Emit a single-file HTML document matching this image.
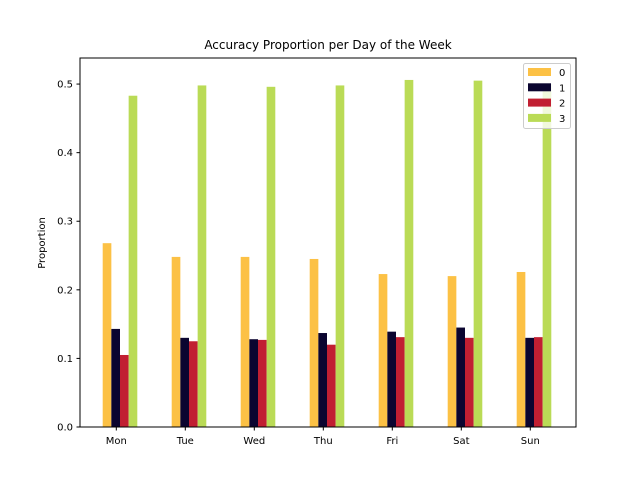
<!DOCTYPE html>
<html><head><meta charset="utf-8"><style>
body{margin:0;background:#fff;}
svg text{font-family:"DejaVu Sans","Liberation Sans",sans-serif;}
</style></head><body>
<svg id="chart" width="640" height="480">
<text x="328" y="49" text-anchor="middle" font-size="12">Accuracy Proportion per Day of the Week</text>
<text transform="translate(45,243) rotate(-90)" text-anchor="middle" font-size="10">Proportion</text>
<g id="bars"></g><g id="axes"></g>
</svg>
<script>
const categories=["Mon","Tue","Wed","Thu","Fri","Sat","Sun"];
const seriesNames=["0","1","2","3"];
const s0=[0.268,0.248,0.248,0.245,0.223,0.220,0.226];
const s1=[0.143,0.130,0.128,0.137,0.139,0.145,0.130];
const s2=[0.105,0.125,0.127,0.120,0.131,0.130,0.131];
const s3=[0.483,0.498,0.496,0.498,0.506,0.505,0.500];
const yTicks=[0.0,0.1,0.2,0.3,0.4,0.5];
const colors=["#fcc145","#0b0530","#c11f32","#badb56"];
const series=[s0,s1,s2,s3];
const NS="http://www.w3.org/2000/svg";
const L=80,R=576,T=58,B=427;
const yMax=0.538;
function y(v){return B-(v/yMax)*(B-T);}
function x(i){return 116.3+i*69.0;}
const bw=8.65;
function mk(tag,attrs,parent){const e=document.createElementNS(NS,tag);for(const k in attrs)e.setAttribute(k,attrs[k]);parent.appendChild(e);return e;}
const gb=document.getElementById('bars'),ga=document.getElementById('axes');
series.forEach((s,k)=>{s.forEach((v,i)=>{
 const r=mk('rect',{x:x(i)-13.6+k*bw,y:y(v),width:bw,height:B-y(v),fill:colors[k]},gb);
 
 
});});
const fr=mk('rect',{x:L,y:T,width:R-L,height:B-T,fill:'none',stroke:'#000','stroke-width':1},ga);


yTicks.forEach(t=>{
 mk('line',{x1:L-3.5,x2:L,y1:y(t),y2:y(t),stroke:'#000'},ga);
 const tx=mk('text',{x:L-7,y:y(t)+3.5,'text-anchor':'end','font-size':10},ga);
 tx.textContent=t.toFixed(1);
 
 
});
categories.forEach((c,i)=>{
 mk('line',{x1:x(i),x2:x(i),y1:B,y2:B+3.5,stroke:'#000'},ga);
 const tx=mk('text',{x:x(i),y:B+17,'text-anchor':'middle','font-size':10},ga);
 tx.textContent=c;
 
 
});
const lg=mk('g',{},ga);


mk('rect',{x:523.5,y:63.5,width:47,height:65,rx:2,fill:'#fff','fill-opacity':0.8,stroke:'#ccc'},lg);
seriesNames.forEach((n,k)=>{
 const yy=68+k*15.3;
 const p=mk('rect',{x:528,y:yy,width:23,height:8,fill:colors[k]},lg);
 
 
 const t=mk('text',{x:559,y:yy+8,'font-size':10},lg);
 t.textContent=n;
 
 
});
</script>
</body></html>
